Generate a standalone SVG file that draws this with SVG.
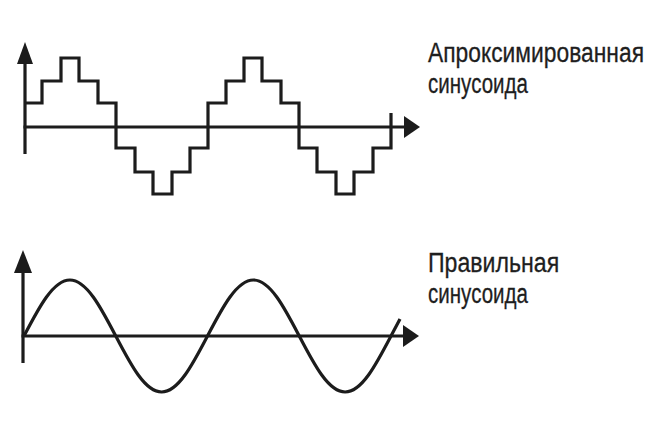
<svg xmlns="http://www.w3.org/2000/svg" width="670" height="430" viewBox="0 0 670 430">
<style>
.ln{fill:none;stroke:#1c1c1c;stroke-width:3.2;stroke-linejoin:miter;stroke-linecap:butt}
.ah{fill:#1c1c1c}
.t{font-family:"Liberation Sans",Arial,sans-serif;font-size:28px;fill:#1e1e1e;stroke:#1e1e1e;stroke-width:0.3}
</style>
<rect width="670" height="430" fill="#ffffff"/>
<g id="top-graph">
<line class="ln" x1="25" y1="154" x2="25" y2="60"/>
<polygon class="ah" points="25,42 17,64 33,64"/>
<line class="ln" x1="23.5" y1="127" x2="406" y2="127"/>
<polygon class="ah" points="420,127 404,116 404,138"/>
<polyline class="ln" points="25,103 42,103 42,81 61,81 61,58 79,58 79,81 98,81 98,103 116,103 116,148 135,148 135,172 153,172 153,194 172,194 172,172 190,172 190,148 208,148 208,103 226,103 226,81 244,81 244,58 262,58 262,81 281,81 281,103 299,103 299,148 317,148 317,172 336,172 336,194 354,194 354,172 373,172 373,148 391,148 391,113"/>
</g>
<g id="bottom-graph">
<line class="ln" x1="23" y1="363" x2="23" y2="268"/>
<polygon class="ah" points="23,250 14,273 32,273"/>
<line class="ln" x1="21.5" y1="336" x2="405" y2="336"/>
<polygon class="ah" points="419,336 403,325 403,347"/>
<path id="sine" class="ln" d="M24,336 C38.96,307.31 53.27,280 69.875,280 C86.48,280 100.79,307.31 115.75,336 C130.71,364.69 145.02,392 161.625,392 C178.23,392 192.54,364.69 207.5,336 C222.46,307.31 236.77,280 253.375,280 C270,280 284.29,307.31 299.25,336 C314.21,364.69 328.52,392 345.125,392 C361.73,392 376.04,364.69 391,336 L400,319"/>
</g>
<g id="labels" transform="scale(0.8,1)">
<text class="t" x="535" y="62" textLength="270" lengthAdjust="spacingAndGlyphs">Апроксимированная</text>
<text class="t" x="535" y="93" textLength="125" lengthAdjust="spacingAndGlyphs">синусоида</text>
<text class="t" x="535" y="272" textLength="164" lengthAdjust="spacingAndGlyphs">Правильная</text>
<text class="t" x="535" y="303" textLength="125" lengthAdjust="spacingAndGlyphs">синусоида</text>
</g>
</svg>
